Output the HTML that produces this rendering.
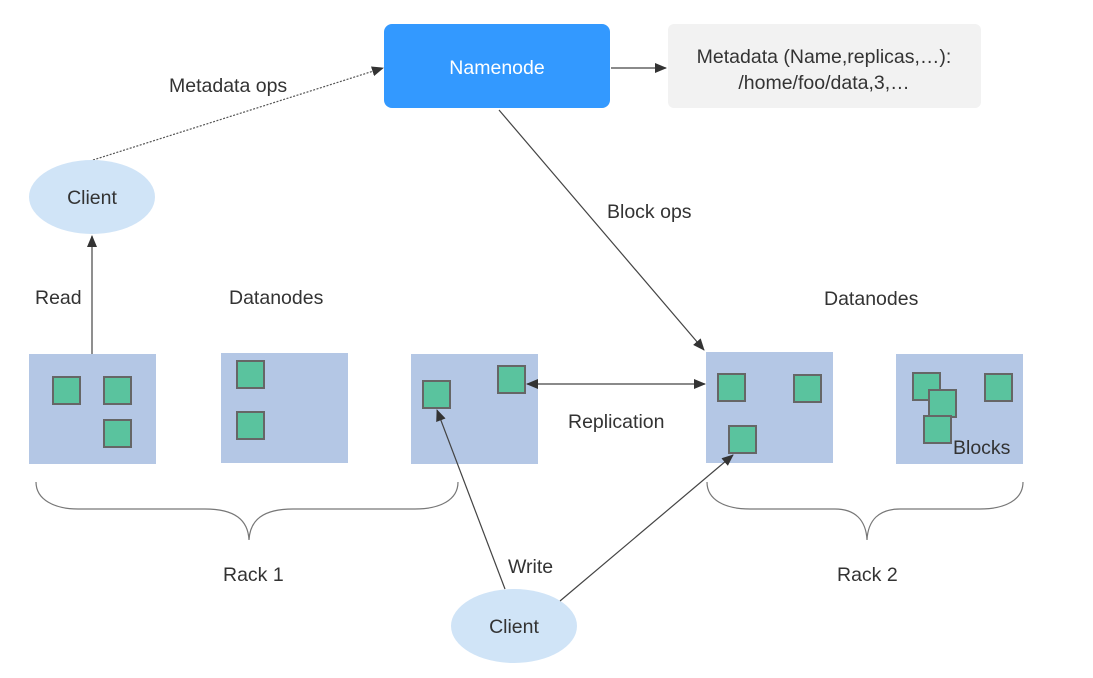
<!DOCTYPE html>
<html><head><meta charset="utf-8"><style>
html,body{margin:0;padding:0;background:#fff;}
svg{display:block;}
text{font-family:"Liberation Sans",Arial,sans-serif;font-size:19.5px;fill:#333;}
</style></head><body>
<svg width="1093" height="678" viewBox="0 0 1093 678" xmlns="http://www.w3.org/2000/svg">
<defs>
<marker id="a" markerWidth="12" markerHeight="10" refX="11" refY="5" orient="auto" markerUnits="userSpaceOnUse">
<path d="M0,0 L12,5 L0,10 z" fill="#333"/></marker>
<marker id="b" markerWidth="12" markerHeight="10" refX="1" refY="5" orient="auto" markerUnits="userSpaceOnUse">
<path d="M12,0 L0,5 L12,10 z" fill="#333"/></marker>
</defs>
<rect x="384" y="24" width="226" height="84" rx="8" fill="#3399ff"/>
<text x="497" y="74" text-anchor="middle" style="fill:#fff">Namenode</text>
<rect x="668" y="24" width="313" height="84" rx="6" fill="#f2f2f2"/>
<text x="824" y="63" text-anchor="middle">Metadata (Name,replicas,…):</text>
<text x="824" y="89" text-anchor="middle">/home/foo/data,3,…</text>
<line x1="611" y1="68" x2="666" y2="68" stroke="#444" stroke-width="1.2" marker-end="url(#a)"/>
<line x1="93" y1="160" x2="383" y2="68" stroke="#555" stroke-width="1.2" stroke-dasharray="2,1.5" marker-end="url(#a)"/>
<text x="169" y="92">Metadata ops</text>
<ellipse cx="92" cy="197" rx="63" ry="37" fill="#d0e4f7"/>
<text x="92" y="204" text-anchor="middle">Client</text>
<line x1="92" y1="354" x2="92" y2="236" stroke="#444" stroke-width="1.2" marker-end="url(#a)"/>
<text x="35" y="304">Read</text>
<text x="229" y="304">Datanodes</text>
<text x="824" y="305">Datanodes</text>
<line x1="499" y1="110" x2="704" y2="350" stroke="#444" stroke-width="1.2" marker-end="url(#a)"/>
<text x="607" y="218">Block ops</text>
<rect x="29" y="354" width="127" height="110" fill="#b4c7e5"/>
<rect x="221" y="353" width="127" height="110" fill="#b4c7e5"/>
<rect x="411" y="354" width="127" height="110" fill="#b4c7e5"/>
<rect x="706" y="352" width="127" height="111" fill="#b4c7e5"/>
<rect x="896" y="354" width="127" height="110" fill="#b4c7e5"/>
<g fill="#5ac39e" stroke="#666" stroke-width="2">
<rect x="53" y="377" width="27" height="27"/>
<rect x="104" y="377" width="27" height="27"/>
<rect x="104" y="420" width="27" height="27"/>
<rect x="237" y="361" width="27" height="27"/>
<rect x="237" y="412" width="27" height="27"/>
<rect x="423" y="381" width="27" height="27"/>
<rect x="498" y="366" width="27" height="27"/>
<rect x="718" y="374" width="27" height="27"/>
<rect x="794" y="375" width="27" height="27"/>
<rect x="729" y="426" width="27" height="27"/>
<rect x="913" y="373" width="27" height="27"/>
<rect x="929" y="390" width="27" height="27"/>
<rect x="924" y="416" width="27" height="27"/>
<rect x="985" y="374" width="27" height="27"/>
</g>
<text x="953" y="454">Blocks</text>
<line x1="527" y1="384" x2="705" y2="384" stroke="#444" stroke-width="1.2" marker-start="url(#b)" marker-end="url(#a)"/>
<text x="568" y="428">Replication</text>
<path d="M36,482 C36,500 55,509 78,509 L205,509 C235,509 248,520 249,540 C250,520 263,509 293,509 L415,509 C440,509 458,500 458,482" fill="none" stroke="#777" stroke-width="1.2"/>
<path d="M707,482 C707,500 725,509 750,509 L835,509 C855,509 866,520 867,540 C868,520 879,509 900,509 L980,509 C1005,509 1023,500 1023,482" fill="none" stroke="#777" stroke-width="1.2"/>
<text x="223" y="581">Rack 1</text>
<text x="837" y="581">Rack 2</text>
<ellipse cx="514" cy="626" rx="63" ry="37" fill="#d0e4f7"/>
<text x="514" y="633" text-anchor="middle">Client</text>
<line x1="505" y1="589" x2="437" y2="410" stroke="#444" stroke-width="1.2" marker-end="url(#a)"/>
<line x1="560" y1="601" x2="733" y2="455" stroke="#444" stroke-width="1.2" marker-end="url(#a)"/>
<text x="508" y="573">Write</text>
</svg>
</body></html>
